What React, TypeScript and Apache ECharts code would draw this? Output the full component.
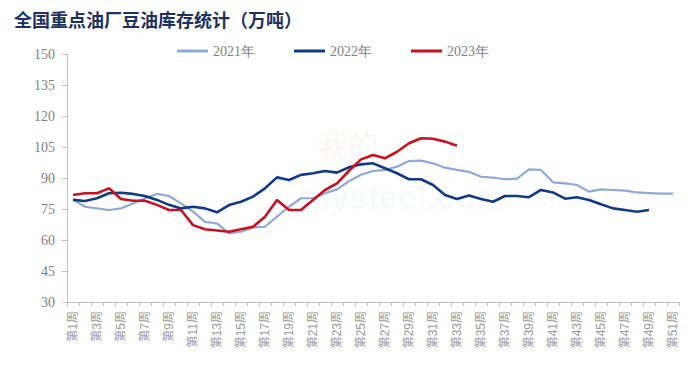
import React, { useEffect, useRef } from "react";
import * as echarts from "echarts";

const weeks: string[] = Array.from({ length: 51 }, (_, i) => `第${i + 1}周`);

const yTicks = { min: 30, max: 150, interval: 15 };

const s2021: number[] = [
  79.7, 76.1, 75.3, 74.5, 75.3, 77.7, 80.2, 82.3, 81.3, 77.7,
  73.7, 68.8, 68.0, 63.2, 64.0, 66.1, 66.4, 71.3, 76.1, 80.2,
  80.2, 82.6, 84.5, 88.5, 91.6, 93.4, 93.9, 95.5, 98.2, 98.4,
  97.1, 95.0, 93.9, 93.0, 90.6, 90.2, 89.4, 89.7, 94.2, 93.9,
  87.9, 87.4, 86.6, 83.4, 84.5, 84.2, 83.9, 83.0, 82.7, 82.4,
  82.4,
];

const s2022: number[] = [
  79.4, 78.9, 80.2, 82.6, 82.9, 82.3, 81.3, 79.4, 77.0, 75.3,
  76.1, 75.3, 73.4, 76.9, 78.5, 81.0, 85.0, 90.3, 89.0, 91.5,
  92.3, 93.4, 92.6, 95.2, 96.6, 97.1, 94.7, 92.3, 89.4, 89.4,
  86.6, 81.8, 79.8, 81.5, 79.8, 78.5, 81.3, 81.3, 80.7, 84.2,
  83.0, 80.0, 80.7, 79.4, 77.3, 75.3, 74.5, 73.7, 74.5,
];

const s2023: number[] = [
  81.8, 82.6, 82.6, 85.0, 79.8, 79.0, 79.0, 77.0, 74.5, 74.5,
  67.2, 65.2, 64.6, 64.0, 65.2, 66.4, 71.3, 79.4, 74.5, 74.5,
  79.4, 84.2, 87.4, 93.5, 99.0, 101.1, 99.5, 102.7, 106.8, 109.2,
  109.0, 107.6, 105.6,
];

const seriesNames = ["2021年", "2022年", "2023年"];
const seriesColors = ["#8FA9D6", "#0F3A85", "#C8101E"];
const seriesWidths = [2.2, 2.6, 2.6];

export default function App() {
  const ref = useRef<HTMLDivElement>(null);
  useEffect(() => {
    if (!ref.current) return;
    const chart = echarts.init(ref.current, null, { renderer: "svg" });
    const data = [s2021, s2022, s2023];
    chart.setOption({
      animation: false,
      backgroundColor: "#ffffff",
      title: {
        text: "全国重点油厂豆油库存统计（万吨）",
        left: 9,
        top: 5,
        textStyle: {
          fontFamily: "Noto Sans CJK SC",
          fontWeight: "bold",
          fontSize: 18,
          color: "#1C3260",
        },
      },
      graphic: [
        {
          type: "text",
          left: 318,
          top: 128,
          silent: true,
          style: {
            text: "我的",
            fontFamily: "Noto Sans CJK SC",
            fontWeight: "bold",
            fontSize: 30,
            fill: "rgba(220,120,120,0.06)",
          },
        },
        {
          type: "text",
          left: 300,
          top: 180,
          silent: true,
          style: {
            text: "mysteel.com",
            fontFamily: "Liberation Sans",
            fontWeight: "bold",
            fontSize: 34,
            fill: "rgba(150,160,190,0.06)",
          },
        },
      ],
      legend: {
        left: 172,
        top: 39,
        icon: "rect",
        itemWidth: 31,
        itemHeight: 3,
        itemGap: 39,
        textStyle: {
          fontFamily: "Liberation Serif",
          fontSize: 14,
          color: "#7F7F7F",
        },
        data: seriesNames,
      },
      grid: { left: 67, right: 21, top: 54, bottom: 72 },
      xAxis: {
        type: "category",
        data: weeks,
        boundaryGap: true,
        axisLine: { lineStyle: { color: "#BFBFBF", width: 1 } },
        axisTick: {
          show: true,
          interval: 0,
          length: 4,
          lineStyle: { color: "#BFBFBF" },
        },
        axisLabel: {
          interval: 1,
          rotate: 90,
          margin: 9,
          fontFamily: "Liberation Sans, Noto Sans CJK SC",
          fontSize: 12,
          color: "#999999",
        },
        splitLine: { show: false },
      },
      yAxis: {
        type: "value",
        min: yTicks.min,
        max: yTicks.max,
        interval: yTicks.interval,
        axisLine: { show: true, lineStyle: { color: "#BFBFBF", width: 1 } },
        axisTick: { show: true, length: 5, lineStyle: { color: "#BFBFBF" } },
        axisLabel: {
          margin: 12,
          fontFamily: "Liberation Serif",
          fontSize: 14,
          color: "#7F7F7F",
        },
        splitLine: { show: false },
      },
      series: seriesNames.map((name, i) => ({
        name,
        type: "line",
        data: data[i],
        symbol: "none",
        showSymbol: false,
        color: seriesColors[i],
        lineStyle: { color: seriesColors[i], width: seriesWidths[i] },
        z: i + 2,
      })),
    });
    return () => chart.dispose();
  }, []);
  return (
    <div
      ref={ref}
      style={{ position: "fixed", left: 0, top: 0, width: 700, height: 374 }}
    />
  );
}
